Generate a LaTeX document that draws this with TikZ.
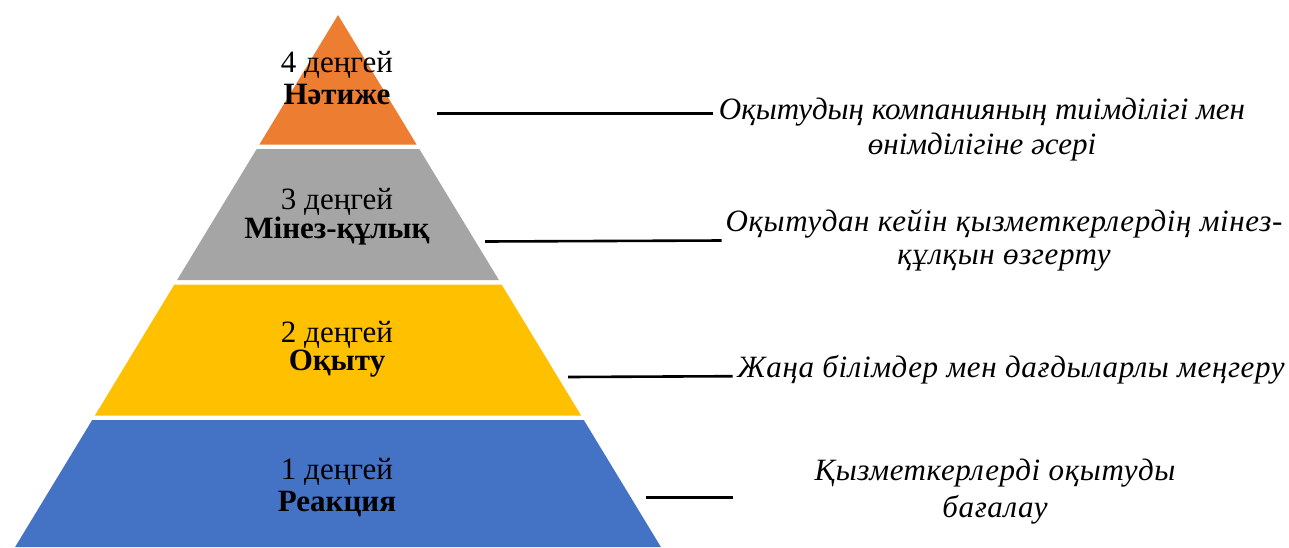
\documentclass[tikz,border=0pt]{standalone}
\usepackage{fontspec}
\setmainfont{Liberation Serif}
\definecolor{lvOrange}{HTML}{ED7D31}
\definecolor{lvGray}{HTML}{A5A5A5}
\definecolor{lvYellow}{HTML}{FFC000}
\definecolor{lvBlue}{HTML}{4472C4}
\tikzset{
  layertxt/.style={anchor=base, inner sep=0pt, font=\fontsize{31}{33}\selectfont},
  layerbold/.style={anchor=base, inner sep=0pt, font=\fontsize{31}{33}\selectfont\bfseries},
  desc/.style={anchor=base, inner sep=0pt, font=\fontsize{31}{34}\selectfont\itshape},
  descwide/.style={desc, font=\fontsize{31}{34}\selectfont\itshape\addfontfeature{LetterSpace=2.0}},
  leader/.style={line width=2.6pt, black}
}
\begin{document}
\begin{tikzpicture}[x=1pt,y=-1pt]
\useasboundingbox (0,0) rectangle (1289,547);
% layers
\fill[lvOrange] (338,15) -- (416.6,144.5) -- (259.4,144.5) -- cycle;
\fill[lvGray] (256.7,149) -- (419.3,149) -- (498.9,280) -- (177.1,280) -- cycle;
\fill[lvYellow] (174.4,284.5) -- (501.6,284.5) -- (581.1,415.5) -- (94.9,415.5) -- cycle;
\fill[lvBlue] (92.2,420) -- (583.8,420) -- (660.9,547) -- (15.1,547) -- cycle;
% layer labels
\node[layertxt] (l4a) at (337,72) {4 деңгей};
\node[layerbold] (l4b) at (337,104) {Нәтиже};
\node[layertxt] (l3a) at (337,209) {3 деңгей};
\node[layerbold] (l3b) at (337,238) {Мінез-құлық};
\node[layertxt] (l2a) at (337,342) {2 деңгей};
\node[layerbold] (l2b) at (337,370) {Оқыту};
\node[layertxt] (l1a) at (337,479) {1 деңгей};
\node[layerbold] (l1b) at (337,511) {Реакция};
% descriptions
\node[desc] (d1a) at (982,119) {Оқытудың компанияның тиімділігі мен};
\node[desc] (d1b) at (982,154) {өнімділігіне әсері};
\node[descwide] (d2a) at (1004,231) {Оқытудан кейін қызметкерлердің мінез-};
\node[descwide] (d2b) at (1004,264) {құлқын өзгерту};
\node[descwide] (d3a) at (1011,377) {Жаңа білімдер мен дағдыларлы меңгеру};
\node[descwide] (d4a) at (995,480) {Қызметкерлерді оқытуды};
\node[descwide] (d4b) at (995,517) {бағалау};
% leader lines
\coordinate (s1) at (436.7,113.3); \coordinate (e1) at (713,113.3);
\coordinate (s2) at (485,241.5); \coordinate (e2) at (721.7,240.5);
\coordinate (s3) at (568,377) ; \coordinate (e3) at (732.7,376.2);
\coordinate (s4) at (646,497.7); \coordinate (e4) at (732.7,497.7);
\draw[leader] (s1) -- (e1);
\draw[leader] (s2) -- (e2);
\draw[leader] (s3) -- (e3);
\draw[leader] (s4) -- (e4);
\end{tikzpicture}
\end{document}
